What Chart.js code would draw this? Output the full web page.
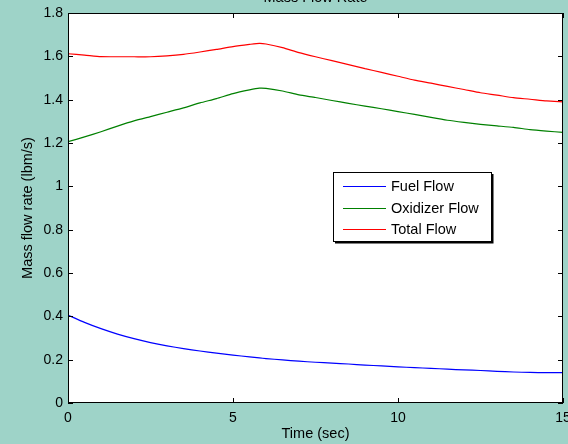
<!DOCTYPE html>
<html>
<head>
<meta charset="utf-8">
<script src="https://cdn.jsdelivr.net/npm/chart.js@4/dist/chart.umd.min.js"></script>
<style>
  html, body { margin: 0; padding: 0; background: #9ed3c8; }
  #wrap { width: 568px; height: 444px; }
</style>
</head>
<body>
<div id="wrap"><canvas id="myChart" width="568" height="444"></canvas></div>
<script>
// data
const time = [0, 0.5, 1, 1.5, 2, 2.5, 3, 3.5, 4, 4.5, 5, 5.5, 5.8, 6, 6.5, 7, 7.5, 8, 8.5, 9, 9.5, 10, 10.5, 11, 11.5, 12, 12.5, 13, 13.5, 14, 14.5, 15];
const fuelFlow = [0.406, 0.372, 0.343, 0.318, 0.297, 0.279, 0.264, 0.251, 0.24, 0.23, 0.221, 0.213, 0.208, 0.205, 0.199, 0.193, 0.188, 0.184, 0.18, 0.175, 0.171, 0.167, 0.163, 0.16, 0.156, 0.153, 0.15, 0.146, 0.143, 0.141, 0.14, 0.14];
const oxidizerFlow = [1.206, 1.228, 1.252, 1.278, 1.302, 1.322, 1.342, 1.362, 1.385, 1.405, 1.428, 1.445, 1.453, 1.452, 1.44, 1.422, 1.41, 1.396, 1.383, 1.37, 1.358, 1.345, 1.332, 1.318, 1.305, 1.295, 1.286, 1.279, 1.272, 1.262, 1.255, 1.249];
const totalFlow = [1.612, 1.606, 1.599, 1.598, 1.598, 1.598, 1.602, 1.609, 1.62, 1.632, 1.645, 1.655, 1.66, 1.657, 1.64, 1.617, 1.598, 1.58, 1.562, 1.543, 1.526, 1.508, 1.49, 1.476, 1.461, 1.447, 1.432, 1.421, 1.409, 1.402, 1.394, 1.39];
const seriesNames = ['Fuel Flow', 'Oxidizer Flow', 'Total Flow'];
const seriesColors = ['#0000ff', '#008000', '#ff0000'];
const xTicks = [0, 5, 10, 15];
const yTicks = [0, 0.2, 0.4, 0.6, 0.8, 1, 1.2, 1.4, 1.6, 1.8];

const FONT = 'Arial, "Liberation Sans", sans-serif';

function toPoints(ys) {
  return time.map((t, i) => ({ x: t, y: ys[i] }));
}

// matlab style frame: background, white axes, box and inward ticks
const matlabFrame = {
  id: 'matlabFrame',
  beforeDraw(chart) {
    const ctx = chart.ctx, a = chart.chartArea;
    ctx.save();
    ctx.fillStyle = '#9ed3c8';
    ctx.fillRect(0, 0, chart.width, chart.height);
    ctx.fillStyle = '#ffffff';
    ctx.fillRect(a.left, a.top, a.right - a.left, a.bottom - a.top);
    ctx.restore();
  },
  afterDraw(chart) {
    const ctx = chart.ctx, a = chart.chartArea;
    const xs = chart.scales.x, ys = chart.scales.y;
    ctx.save();
    ctx.strokeStyle = '#000000';
    ctx.lineWidth = 1;
    ctx.strokeRect(Math.round(a.left) + 0.5, Math.round(a.top) + 0.5, Math.round(a.right - a.left) - 1, Math.round(a.bottom - a.top) - 1);
    ctx.beginPath();
    xTicks.forEach(v => {
      const px = Math.round(xs.getPixelForValue(v)) + 0.5;
      ctx.moveTo(px, a.bottom); ctx.lineTo(px, a.bottom - 5);
      ctx.moveTo(px, a.top); ctx.lineTo(px, a.top + 5);
    });
    yTicks.forEach(v => {
      const py = Math.round(ys.getPixelForValue(v)) + 0.5;
      ctx.moveTo(a.left, py); ctx.lineTo(a.left + 5, py);
      ctx.moveTo(a.right, py); ctx.lineTo(a.right - 5, py);
    });
    ctx.stroke();

    // title, mostly off the top of the picture
    ctx.fillStyle = '#000000';
    ctx.font = '14.5px ' + FONT;
    ctx.textAlign = 'center';
    ctx.textBaseline = 'alphabetic';
    ctx.fillText('Mass Flow Rate', (a.left + a.right) / 2, 2);

    // legend box
    const bx = 333, by = 172, bw = 158, bh = 69;
    ctx.fillStyle = '#ffffff';
    ctx.fillRect(bx, by, bw, bh);
    ctx.strokeStyle = '#000000';
    ctx.strokeRect(bx + 0.5, by + 0.5, bw, bh);
    ctx.lineWidth = 2;
    ctx.beginPath();
    ctx.moveTo(bx + bw + 1.5, by + 2); ctx.lineTo(bx + bw + 1.5, by + bh + 1.5); ctx.lineTo(bx + 2, by + bh + 1.5);
    ctx.stroke();
    ctx.lineWidth = 1;
    ctx.textAlign = 'left';
    ctx.textBaseline = 'middle';
    chart.data.datasets.forEach((ds, i) => {
      const ry = by + 14 + i * 21.5;
      ctx.strokeStyle = ds.borderColor;
      ctx.beginPath();
      ctx.moveTo(bx + 10, Math.round(ry) + 0.5); ctx.lineTo(bx + 53, Math.round(ry) + 0.5);
      ctx.stroke();
      ctx.fillStyle = '#000000';
      ctx.fillText(ds.label, bx + 58, ry + 1);
    });
    ctx.restore();
  }
};

const config = {
  type: 'line',
  data: {
    datasets: [
      { label: seriesNames[0], data: toPoints(fuelFlow), borderColor: seriesColors[0] },
      { label: seriesNames[1], data: toPoints(oxidizerFlow), borderColor: seriesColors[1] },
      { label: seriesNames[2], data: toPoints(totalFlow), borderColor: seriesColors[2] }
    ]
  },
  options: {
    responsive: false,
    animation: false,
    layout: { padding: { top: 13, right: 5, left: 0, bottom: 0 } },
    elements: {
      line: { borderWidth: 1.2, tension: 0.2 },
      point: { radius: 0 }
    },
    plugins: {
      legend: { display: false },
      tooltip: { enabled: false }
    },
    scales: {
      x: {
        type: 'linear',
        min: 0, max: 15,
        grid: { display: false, drawTicks: false },
        border: { display: false },
        afterBuildTicks: s => { s.ticks = xTicks.map(v => ({ value: v })); },
        ticks: { color: '#000', font: { family: FONT, size: 14 }, padding: 7, maxRotation: 0 },
        title: { display: true, text: 'Time (sec)', color: '#000', font: { family: FONT, size: 14.5 }, padding: { top: 0, bottom: 1 } },
        afterFit: s => { s.height = 41; s.paddingLeft = 0; s.paddingRight = 0; }
      },
      y: {
        min: 0, max: 1.8,
        grid: { display: false, drawTicks: false },
        border: { display: false },
        afterBuildTicks: s => { s.ticks = yTicks.map(v => ({ value: v })); },
        ticks: { color: '#000', font: { family: FONT, size: 14 }, padding: 5, callback: v => String(+v.toFixed(1)) },
        title: { display: true, text: 'Mass flow rate (lbm/s)', color: '#000', font: { family: FONT, size: 14.5 }, padding: { top: 19, bottom: 0 } },
        afterFit: s => { s.width = 68; s.paddingTop = 0; s.paddingBottom = 0; }
      }
    }
  },
  plugins: [matlabFrame]
};

const myChart = new Chart(document.getElementById('myChart'), config);
</script>
</body>
</html>
